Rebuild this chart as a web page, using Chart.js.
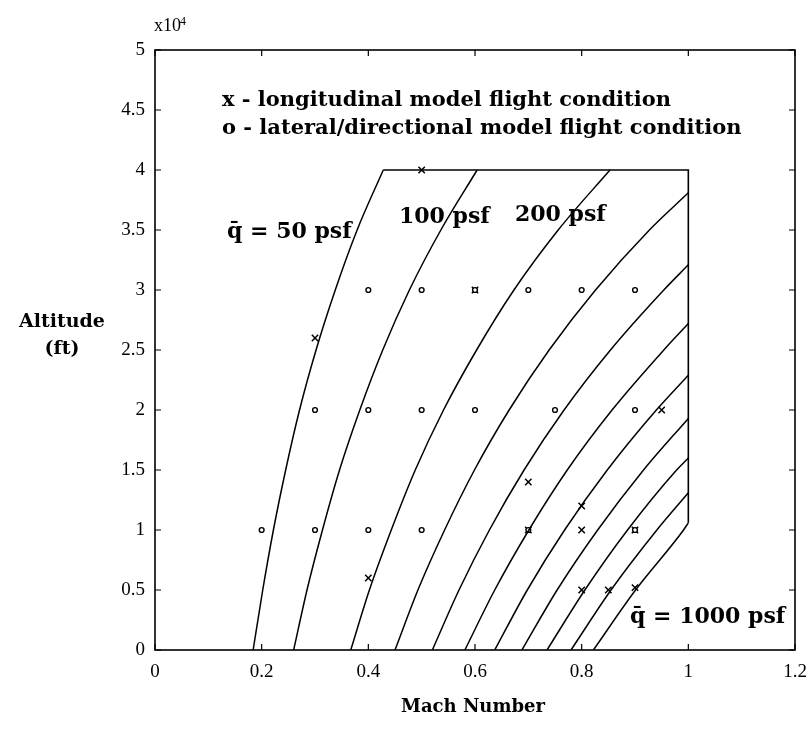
<!DOCTYPE html>
<html>
<head>
<meta charset="utf-8">
<script src="https://cdn.jsdelivr.net/npm/chart.js@4.4.1/dist/chart.umd.min.js"></script>
<style>
  body { margin: 0; background: #fff; }
  canvas { display: block; }
</style>
</head>
<body>
<canvas id="envelope" width="811" height="729"></canvas>
<script>
// constant dynamic pressure lines, [Mach, altitude x10^4 ft]
const q50 = [[0.184, 0], [0.202, 0.5], [0.222, 1], [0.245, 1.5], [0.271, 2], [0.302, 2.5], [0.338, 3], [0.379, 3.5], [0.428, 4]];
const q100 = [[0.260, 0], [0.285, 0.5], [0.314, 1], [0.346, 1.5], [0.384, 2], [0.427, 2.5], [0.477, 3], [0.536, 3.5], [0.604, 4]];
const q200 = [[0.367, 0], [0.402, 0.5], [0.443, 1], [0.488, 1.5], [0.541, 2], [0.603, 2.5], [0.673, 3], [0.756, 3.5], [0.853, 4]];
const q300 = [[0.450, 0], [0.493, 0.5], [0.543, 1], [0.599, 1.5], [0.664, 2], [0.739, 2.5], [0.826, 3], [0.927, 3.5], [1.0, 3.81]];
const q400 = [[0.520, 0], [0.570, 0.5], [0.627, 1], [0.692, 1.5], [0.767, 2], [0.854, 2.5], [0.954, 3], [1.0, 3.21]];
const q500 = [[0.581, 0], [0.637, 0.5], [0.701, 1], [0.773, 1.5], [0.857, 2], [0.954, 2.5], [1.0, 2.72]];
const q600 = [[0.637, 0], [0.698, 0.5], [0.768, 1], [0.848, 1.5], [0.940, 2], [1.0, 2.29]];
const q700 = [[0.688, 0], [0.754, 0.5], [0.830, 1], [0.916, 1.5], [1.0, 1.93]];
const q800 = [[0.735, 0], [0.806, 0.5], [0.886, 1], [0.978, 1.5], [1.0, 1.6]];
const q900 = [[0.780, 0], [0.855, 0.5], [0.941, 1], [1.0, 1.31]];
const q1000 = [[0.822, 0], [0.901, 0.5], [0.991, 1], [1.0, 1.06]];
const qCurves = [q50, q100, q200, q300, q400, q500, q600, q700, q800, q900, q1000];

// envelope top (40,000 ft) and right edge (M = 1)
const envelopeMach = [0.428, 1.0, 1.0];
const envelopeAlt = [4, 4, 1.06];

// x - longitudinal model flight conditions
const longMach = [0.5, 0.3, 0.6, 0.95, 0.7, 0.8, 0.7, 0.8, 0.9, 0.4, 0.8, 0.85, 0.9];
const longAlt = [4, 2.6, 3, 2, 1.4, 1.2, 1, 1, 1, 0.6, 0.5, 0.5, 0.52];

// o - lateral/directional model flight conditions
const latMach = [0.4, 0.5, 0.6, 0.7, 0.8, 0.9, 0.3, 0.4, 0.5, 0.6, 0.75, 0.9, 0.2, 0.3, 0.4, 0.5, 0.7, 0.9];
const latAlt = [3, 3, 3, 3, 3, 3, 2, 2, 2, 2, 2, 2, 1, 1, 1, 1, 1, 1];

const machTicks = [0, 0.2, 0.4, 0.6, 0.8, 1, 1.2];
const altTicks = [0, 0.5, 1, 1.5, 2, 2.5, 3, 3.5, 4, 4.5, 5];

const serif = '"DejaVu Serif", serif';
const tickFont = '"Liberation Serif", serif';

var datasets = [];
qCurves.forEach(function (c) {
    datasets.push({
        data: c.map(function (p) { return { x: p[0], y: p[1] }; }),
        showLine: true,
        borderColor: '#000',
        borderWidth: 1.5,
        pointRadius: 0,
        cubicInterpolationMode: 'monotone'
    });
});
datasets.push({
    data: envelopeMach.map(function (m, i) { return { x: m, y: envelopeAlt[i] }; }),
    showLine: true,
    borderColor: '#000',
    borderWidth: 1.6,
    pointRadius: 0
});
datasets.push({
    data: latMach.map(function (m, i) { return { x: m, y: latAlt[i] }; }),
    showLine: false,
    pointStyle: 'circle',
    pointRadius: 2.4,
    borderWidth: 1.4,
    borderColor: '#000',
    backgroundColor: '#fff'
});
datasets.push({
    data: longMach.map(function (m, i) { return { x: m, y: longAlt[i] }; }),
    showLine: false,
    pointStyle: 'crossRot',
    pointRadius: 4.5,
    borderWidth: 1.5,
    borderColor: '#000'
});

// inward ticks on all four sides, frame and the text notes
const decorations = {
    id: 'decorations',
    afterDraw: function (chart) {
        var ctx = chart.ctx;
        var a = chart.chartArea;
        var xs = chart.scales.x, ys = chart.scales.y;
        ctx.save();
        ctx.strokeStyle = '#000';
        ctx.lineWidth = 1.6;
        ctx.strokeRect(a.left, a.top, a.right - a.left, a.bottom - a.top);
        ctx.lineWidth = 1.2;
        ctx.beginPath();
        machTicks.forEach(function (t) {
            var px = xs.getPixelForValue(t);
            ctx.moveTo(px, a.bottom); ctx.lineTo(px, a.bottom - 6);
            ctx.moveTo(px, a.top); ctx.lineTo(px, a.top + 6);
        });
        altTicks.forEach(function (t) {
            var py = ys.getPixelForValue(t);
            ctx.moveTo(a.left, py); ctx.lineTo(a.left + 6, py);
            ctx.moveTo(a.right, py); ctx.lineTo(a.right - 6, py);
        });
        ctx.stroke();

        ctx.fillStyle = '#000';
        ctx.textBaseline = 'alphabetic';
        ctx.textAlign = 'left';
        ctx.font = 'bold 21px ' + serif;
        ctx.fillText('x - longitudinal model flight condition', 222, 106);
        ctx.fillText('o - lateral/directional model flight condition', 222, 134);

        ctx.font = 'bold 22px ' + serif;
        ctx.fillText('q\u0304 = 50 psf', 227, 238);
        ctx.fillText('100 psf', 399, 223);
        ctx.fillText('200 psf', 515, 221);
        ctx.fillText('q\u0304 = 1000 psf', 630, 623);

        ctx.font = 'bold 19px ' + serif;
        ctx.textAlign = 'center';
        ctx.fillText('Altitude', 62, 327);
        ctx.fillText('(ft)', 62, 354);
        ctx.font = 'bold 18px ' + serif;
        ctx.fillText('Mach Number', 473, 712);

        ctx.textAlign = 'left';
        ctx.font = '18px ' + tickFont;
        ctx.fillText('x10', 154, 31);
        ctx.font = '12px ' + tickFont;
        ctx.fillText('4', 180, 25);
        ctx.restore();
    }
};

function tickText(v) { return String(v); }

new Chart(document.getElementById('envelope'), {
    type: 'scatter',
    data: { datasets: datasets },
    options: {
        responsive: false,
        devicePixelRatio: 1,
        animation: false,
        layout: { padding: { top: 50, right: 16, left: 0, bottom: 0 } },
        plugins: { legend: { display: false }, tooltip: { enabled: false } },
        scales: {
            x: {
                min: 0, max: 1.2,
                afterFit: function (s) { s.height = 79; },
                afterBuildTicks: function (s) { s.ticks = machTicks.map(function (v) { return { value: v }; }); },
                grid: { display: false },
                border: { display: false },
                ticks: { color: '#000', padding: 3, callback: tickText, font: { family: tickFont, size: 19 } }
            },
            y: {
                min: 0, max: 5,
                afterFit: function (s) { s.width = 155; },
                afterBuildTicks: function (s) { s.ticks = altTicks.map(function (v) { return { value: v }; }); },
                grid: { display: false },
                border: { display: false },
                ticks: { color: '#000', padding: 2, callback: tickText, font: { family: tickFont, size: 19 } }
            }
        }
    },
    plugins: [decorations]
});
</script>
</body>
</html>
